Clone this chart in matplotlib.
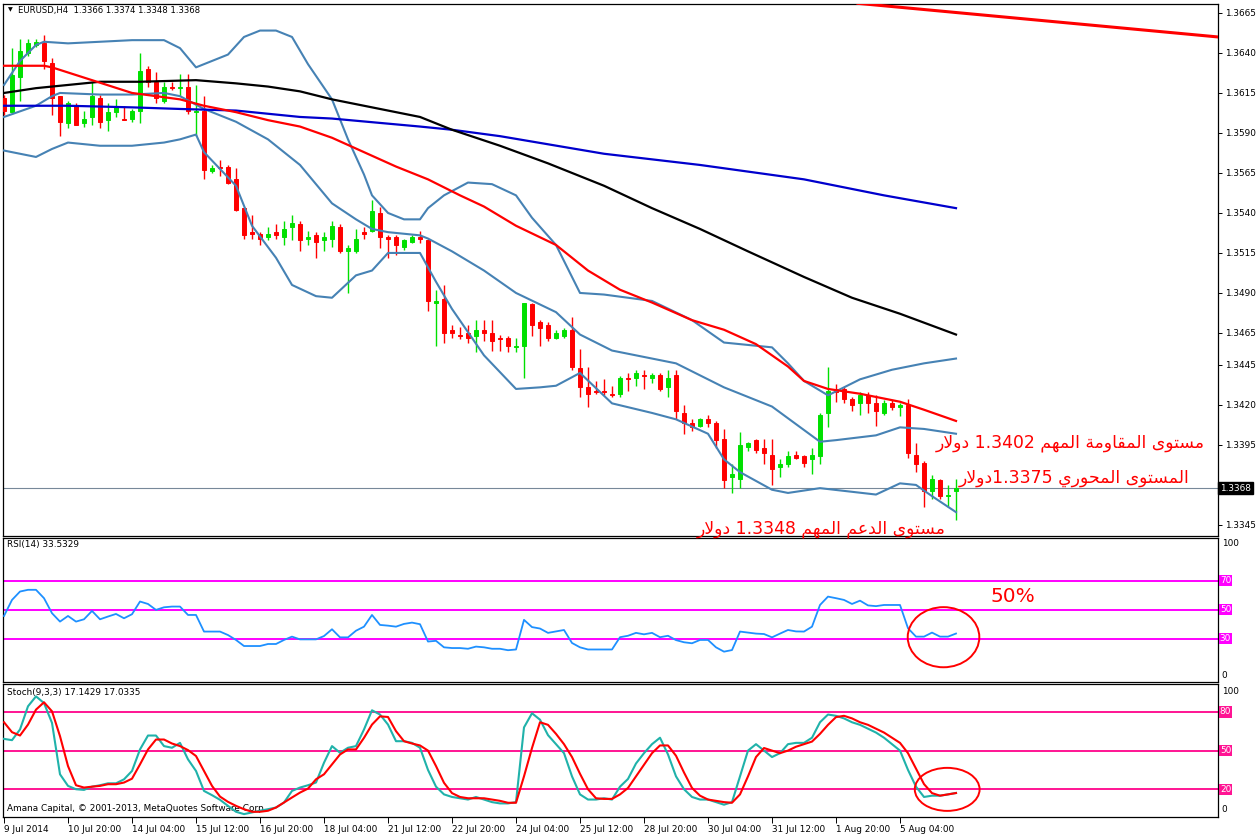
import re
import numpy as np
import matplotlib
matplotlib.use('Agg')
import matplotlib.pyplot as plt
import matplotlib.transforms as mtransforms
from matplotlib.patches import Ellipse

# ---- candle data (H4 bars, left to right) ----
opens = [
    1.3612, 1.3603, 1.3625, 1.3640, 1.3645, 1.3646, 1.3634, 1.3613, 1.3596, 1.3607,
    1.3596, 1.3600, 1.3612, 1.3598, 1.3603, 1.3599, 1.3599, 1.3604, 1.3630, 1.3622,
    1.3610, 1.3619, 1.3618, 1.3619, 1.3603, 1.3604, 1.3566, 1.3569, 1.3569, 1.3561,
    1.3543, 1.3528, 1.3527, 1.3525, 1.3528, 1.3525, 1.3531, 1.3533, 1.3524, 1.3526,
    1.3523, 1.3524, 1.3531, 1.3516, 1.3516, 1.3528, 1.3529, 1.3540, 1.3525, 1.3525,
    1.3519, 1.3522, 1.3525, 1.3523, 1.3484, 1.3486, 1.3467, 1.3464, 1.3465, 1.3463,
    1.3467, 1.3465, 1.3462, 1.3462, 1.3456, 1.3457, 1.3483, 1.3472, 1.3470, 1.3462,
    1.3463, 1.3467, 1.3443, 1.3431, 1.3429, 1.3429, 1.3427, 1.3427, 1.3437, 1.3437,
    1.3439, 1.3437, 1.3439, 1.3431, 1.3439, 1.3415, 1.3409, 1.3407, 1.3411, 1.3409,
    1.3399, 1.3375, 1.3374, 1.3394, 1.3398, 1.3393, 1.3389, 1.3381, 1.3383, 1.3389,
    1.3388, 1.3386, 1.3388, 1.3415, 1.3430, 1.3430, 1.3424, 1.3421, 1.3426, 1.3421,
    1.3415, 1.3421, 1.3419, 1.3420, 1.3389, 1.3384, 1.3366, 1.3373, 1.3363, 1.3366,
]
highs = [
    1.3614, 1.3643, 1.3649, 1.3649, 1.3649, 1.3651, 1.3637, 1.3613, 1.3610, 1.3609,
    1.3604, 1.3622, 1.3614, 1.3609, 1.3611, 1.3607, 1.3605, 1.3640, 1.3632, 1.3628,
    1.3622, 1.3622, 1.3627, 1.3627, 1.3620, 1.3613, 1.3570, 1.3573, 1.3570, 1.3568,
    1.3544, 1.3539, 1.3528, 1.3531, 1.3533, 1.3535, 1.3539, 1.3535, 1.3529, 1.3528,
    1.3528, 1.3535, 1.3533, 1.3520, 1.3530, 1.3531, 1.3548, 1.3544, 1.3526, 1.3526,
    1.3524, 1.3526, 1.3529, 1.3524, 1.3492, 1.3495, 1.3470, 1.3469, 1.3470, 1.3473,
    1.3473, 1.3473, 1.3464, 1.3463, 1.3462, 1.3484, 1.3484, 1.3473, 1.3472, 1.3467,
    1.3468, 1.3475, 1.3455, 1.3444, 1.3435, 1.3436, 1.3432, 1.3438, 1.3440, 1.3442,
    1.3442, 1.3440, 1.3440, 1.3442, 1.3442, 1.3420, 1.3411, 1.3412, 1.3414, 1.3410,
    1.3405, 1.3383, 1.3403, 1.3397, 1.3399, 1.3399, 1.3399, 1.3386, 1.3391, 1.3391,
    1.3389, 1.3393, 1.3415, 1.3444, 1.3433, 1.3431, 1.3425, 1.3428, 1.3428, 1.3426,
    1.3423, 1.3423, 1.3421, 1.3424, 1.3396, 1.3385, 1.3376, 1.3374, 1.3370, 1.3374,
]
lows = [
    1.3601, 1.3602, 1.3610, 1.3638, 1.3644, 1.3630, 1.3601, 1.3588, 1.3593, 1.3595,
    1.3594, 1.3595, 1.3593, 1.3591, 1.3600, 1.3598, 1.3597, 1.3596, 1.3619, 1.3609,
    1.3609, 1.3617, 1.3613, 1.3602, 1.3588, 1.3561, 1.3565, 1.3563, 1.3558, 1.3541,
    1.3524, 1.3524, 1.3520, 1.3523, 1.3524, 1.3520, 1.3523, 1.3516, 1.3520, 1.3512,
    1.3516, 1.3519, 1.3515, 1.3490, 1.3515, 1.3524, 1.3528, 1.3518, 1.3512, 1.3514,
    1.3517, 1.3521, 1.3521, 1.3479, 1.3457, 1.3459, 1.3462, 1.3461, 1.3459, 1.3453,
    1.3460, 1.3454, 1.3454, 1.3453, 1.3453, 1.3437, 1.3463, 1.3457, 1.3460, 1.3461,
    1.3462, 1.3442, 1.3425, 1.3419, 1.3427, 1.3426, 1.3425, 1.3425, 1.3429, 1.3432,
    1.3430, 1.3434, 1.3429, 1.3425, 1.3411, 1.3402, 1.3404, 1.3406, 1.3406, 1.3393,
    1.3368, 1.3365, 1.3368, 1.3391, 1.3390, 1.3383, 1.3370, 1.3375, 1.3381, 1.3386,
    1.3381, 1.3377, 1.3383, 1.3406, 1.3422, 1.3421, 1.3416, 1.3414, 1.3415, 1.3407,
    1.3414, 1.3417, 1.3413, 1.3387, 1.3378, 1.3356, 1.3361, 1.3361, 1.3356, 1.3348,
]
closes = [
    1.3604, 1.3626, 1.3641, 1.3646, 1.3647, 1.3635, 1.3612, 1.3597, 1.3609, 1.3595,
    1.3599, 1.3613, 1.3597, 1.3603, 1.3607, 1.3598, 1.3604, 1.3629, 1.3622, 1.3612,
    1.3619, 1.3618, 1.3619, 1.3604, 1.3604, 1.3567, 1.3568, 1.3568, 1.3559, 1.3542,
    1.3526, 1.3527, 1.3524, 1.3527, 1.3526, 1.3530, 1.3534, 1.3523, 1.3525, 1.3522,
    1.3525, 1.3532, 1.3516, 1.3518, 1.3524, 1.3527, 1.3541, 1.3525, 1.3524, 1.3520,
    1.3523, 1.3525, 1.3524, 1.3485, 1.3485, 1.3465, 1.3465, 1.3463, 1.3462, 1.3467,
    1.3465, 1.3460, 1.3461, 1.3457, 1.3457, 1.3484, 1.3470, 1.3468, 1.3462, 1.3465,
    1.3467, 1.3444, 1.3431, 1.3427, 1.3428, 1.3428, 1.3426, 1.3437, 1.3436, 1.3440,
    1.3438, 1.3439, 1.3430, 1.3437, 1.3416, 1.3409, 1.3406, 1.3411, 1.3409, 1.3398,
    1.3373, 1.3377, 1.3395, 1.3396, 1.3392, 1.3390, 1.3380, 1.3383, 1.3388, 1.3387,
    1.3384, 1.3389, 1.3414, 1.3429, 1.3428, 1.3424, 1.3420, 1.3426, 1.3421, 1.3416,
    1.3421, 1.3419, 1.3420, 1.3390, 1.3383, 1.3366, 1.3374, 1.3363, 1.3364, 1.3368,
]

# ---- indicator lines (bar index, value) ----
ma_red_bars = [0, 5, 6, 11, 16, 22, 25, 29, 33, 37, 41, 45, 49, 53, 57, 60, 64, 69, 73, 77,
               81, 86, 90, 94, 98, 100, 103, 107, 112, 115, 119]
ma_red_vals = [1.3632, 1.3632, 1.3631, 1.3623, 1.3615, 1.3611, 1.3607, 1.3603, 1.3598, 1.3594,
               1.3587, 1.3578, 1.3569, 1.3561, 1.3551, 1.3544, 1.3532, 1.3520, 1.3504, 1.3492,
               1.3484, 1.3473, 1.3467, 1.3458, 1.3444, 1.3435, 1.3430, 1.3427, 1.3422, 1.3417,
               1.3410]
ma_black_bars = [0, 4, 8, 12, 17, 24, 29, 33, 37, 41, 52, 56, 62, 68, 75, 81, 87, 93, 100,
                 106, 112, 119]
ma_black_vals = [1.3615, 1.3618, 1.3620, 1.3622, 1.3622, 1.3623, 1.3621, 1.3619, 1.3616, 1.3611,
                 1.3600, 1.3592, 1.3582, 1.3571, 1.3557, 1.3543, 1.3530, 1.3516, 1.3500,
                 1.3487, 1.3477, 1.3464]
ma_blue_bars = [0, 8, 16, 22, 29, 33, 37, 41, 52, 56, 62, 75, 87, 100, 110, 119]
ma_blue_vals = [1.3607, 1.3607, 1.3606, 1.3605, 1.3604, 1.3602, 1.3600, 1.3599, 1.3594, 1.3592,
                1.3588, 1.3577, 1.3570, 1.3561, 1.3551, 1.3543]

bb_up_bars = [0, 2, 4, 5, 8, 12, 16, 20, 22, 24, 25, 28, 30, 32, 34, 36, 38, 41, 43, 45, 46,
              48, 50, 52, 53, 55, 58, 61, 64, 66, 69, 72, 75, 81, 86, 90, 92, 96, 98, 100,
              103, 105, 107, 111, 115, 119]
bb_up_vals = [1.3620, 1.3635, 1.3645, 1.3647, 1.3646, 1.3647, 1.3648, 1.3648, 1.3643, 1.3631,
              1.3633, 1.3639, 1.3650, 1.3654, 1.3654, 1.3650, 1.3633, 1.3611, 1.3586, 1.3564,
              1.3551, 1.3540, 1.3536, 1.3536, 1.3543, 1.3551, 1.3559, 1.3558, 1.3551, 1.3537,
              1.3520, 1.3490, 1.3489, 1.3485, 1.3473, 1.3459, 1.3458, 1.3456, 1.3446, 1.3435,
              1.3426, 1.3431, 1.3436, 1.3442, 1.3446, 1.3449]
bb_mid_bars = [0, 4, 6, 7, 12, 16, 20, 22, 25, 29, 33, 37, 41, 44, 46, 48, 52, 53, 56, 60,
               64, 69, 72, 76, 80, 84, 90, 96, 102, 104, 109, 112, 115, 119]
bb_mid_vals = [1.3600, 1.3607, 1.3613, 1.3615, 1.3614, 1.3614, 1.3615, 1.3613, 1.3605, 1.3597,
               1.3586, 1.3570, 1.3546, 1.3536, 1.3530, 1.3528, 1.3526, 1.3524, 1.3516, 1.3504,
               1.3490, 1.3478, 1.3464, 1.3454, 1.3450, 1.3446, 1.3431, 1.3419, 1.3397, 1.3398,
               1.3401, 1.3406, 1.3405, 1.3402]
bb_low_bars = [0, 4, 6, 8, 12, 16, 20, 22, 24, 25, 29, 31, 34, 36, 39, 41, 44, 46, 48, 52,
               54, 56, 60, 64, 67, 69, 72, 76, 81, 84, 88, 90, 92, 96, 98, 102, 109, 112, 114,
               116, 119]
bb_low_vals = [1.3579, 1.3575, 1.3580, 1.3584, 1.3582, 1.3582, 1.3584, 1.3586, 1.3589, 1.3578,
               1.3557, 1.3532, 1.3512, 1.3495, 1.3488, 1.3487, 1.3501, 1.3504, 1.3515, 1.3515,
               1.3497, 1.3480, 1.3451, 1.3430, 1.3431, 1.3432, 1.3440, 1.3421, 1.3415, 1.3411,
               1.3402, 1.3386, 1.3378, 1.3367, 1.3365, 1.3368, 1.3364, 1.3371, 1.3370, 1.3363,
               1.3353]

trend_bars = [106.75, 151.75]
trend_vals = [1.3671, 1.3650]

rsi = [45.7, 56.8, 62.6, 63.8, 63.8, 58.0, 47.6, 41.8, 45.7, 41.8,
       43.4, 49.2, 43.4, 45.3, 47.1, 44.1, 46.9, 55.7, 54.0, 49.9,
       51.7, 52.2, 52.2, 46.4, 46.4, 34.9, 34.9, 34.9, 32.5, 29.1,
       24.9, 24.9, 24.9, 26.3, 26.3, 29.1, 31.4, 29.5, 29.5, 29.5,
       31.8, 36.5, 30.9, 30.9, 35.5, 38.3, 46.4, 39.5, 39.0, 38.3,
       40.2, 41.1, 40.0, 28.0, 28.5, 24.0, 23.5, 23.5, 23.0, 24.5,
       24.0, 23.0, 23.0, 22.0, 22.5, 43.0, 38.0, 37.0, 34.0, 35.0,
       36.0, 27.0, 24.0, 22.5, 22.5, 22.5, 22.5, 31.0, 32.0, 34.0,
       33.0, 34.0, 31.0, 32.0, 29.0, 27.5, 26.8, 29.1, 29.1, 24.0,
       21.0, 22.1, 34.9, 34.2, 33.5, 33.2, 30.9, 33.5, 36.0, 35.0,
       34.9, 38.3, 53.3, 59.1, 58.0, 56.8, 54.0, 56.3, 53.0, 52.5,
       53.3, 53.3, 53.3, 37.2, 31.4, 31.4, 34.2, 31.4, 31.4, 33.53]

stoch_k = [59.1, 58.1, 66.4, 84.4, 92.1, 86.9, 71.5, 31.6, 22.6, 20.0,
           19.5, 22.0, 23.1, 24.6, 24.6, 27.7, 34.2, 50.9, 61.7, 61.7,
           53.5, 52.2, 56.0, 43.2, 34.2, 18.7, 15.4, 11.8, 7.1, 2.5,
           0.7, 2.0, 3.3, 4.5, 5.8, 9.7, 18.7, 21.3, 23.1, 25.2,
           40.6, 53.5, 48.3, 52.2, 53.5, 66.4, 81.3, 78.0, 70.2, 57.3,
           57.3, 56.0, 52.2, 35, 22, 16, 14, 13, 12, 14,
           12, 10, 9, 9, 10, 68, 79, 74, 62, 55,
           48, 30, 16, 12, 12, 13, 12, 22, 28, 40,
           48, 55, 60, 47, 30, 20, 14, 12, 12, 10,
           8, 10, 30, 50, 55, 50, 45, 48, 55, 56,
           56, 60, 72, 78, 77, 75, 72, 70, 67, 64,
           60, 55, 50, 35, 22, 14, 15, 15, 16, 17.14]
stoch_d = [72.0, 64.3, 61.7, 70.2, 81.8, 87.5, 80.5, 61.2, 38.0, 23.1,
           21.3, 22.0, 22.6, 23.9, 23.9, 25.2, 28.2, 39.3, 50.9, 58.6,
           58.6, 55.5, 53.5, 50.4, 45.8, 34.2, 22.6, 14.3, 10.2, 7.1,
           4.5, 2.5, 2.5, 3.3, 5.8, 9.7, 13.6, 17.4, 20.5, 27.7,
           31.6, 39.3, 47.0, 50.9, 50.9, 59.9, 70.2, 76.6, 76.1, 65.1,
           57.3, 55.5, 54.0, 50, 38, 25, 17, 14, 13, 13,
           13, 12, 11, 9.5, 9.5, 30, 52, 72, 70, 63,
           55, 45, 32, 20, 13, 12.5, 12.5, 16, 21, 30,
           39, 48, 54, 54, 46, 33, 21, 15, 12, 11,
           10, 9.5, 16, 30, 45, 52, 50, 48, 50, 53,
           55, 57, 63, 70, 76, 77, 75, 72, 70, 67,
           64, 60, 56, 48, 36, 24, 17, 15, 16, 17.03]

price_ticks = [1.3665, 1.3640, 1.3615, 1.3590, 1.3565, 1.3540, 1.3515, 1.3490, 1.3465,
               1.3445, 1.3420, 1.3395, 1.3345]
date_bars = [0, 8, 16, 24, 32, 40, 48, 56, 64, 72, 80, 88, 96, 104, 112]
date_labels = ['9 Jul 2014', '10 Jul 20:00', '14 Jul 04:00', '15 Jul 12:00', '16 Jul 20:00',
               '18 Jul 04:00', '21 Jul 12:00', '22 Jul 20:00', '24 Jul 04:00', '25 Jul 12:00',
               '28 Jul 20:00', '30 Jul 04:00', '31 Jul 12:00', '1 Aug 20:00', '5 Aug 04:00']
rsi_levels = [70, 50, 30]
stoch_levels = [80, 50, 20]

notes = ['مستوى المقاومة المهم 1.3402 دولار',
         'المستوى المحوري 1.3375دولار',
         'مستوى الدعم المهم 1.3348 دولار']


# ---- tiny arabic shaper (matplotlib has no bidi / joining) ----
AR_FORMS = {
    'ا': ('\ufe8d', '\ufe8e', None, None),
    'ت': ('\ufe95', '\ufe96', '\ufe97', '\ufe98'),
    'ة': ('\ufe93', '\ufe94', None, None),
    'ح': ('\ufea1', '\ufea2', '\ufea3', '\ufea4'),
    'د': ('\ufea9', '\ufeaa', None, None),
    'ر': ('\ufead', '\ufeae', None, None),
    'س': ('\ufeb1', '\ufeb2', '\ufeb3', '\ufeb4'),
    'ع': ('\ufec9', '\ufeca', '\ufecb', '\ufecc'),
    'ق': ('\ufed5', '\ufed6', '\ufed7', '\ufed8'),
    'ل': ('\ufedd', '\ufede', '\ufedf', '\ufee0'),
    'م': ('\ufee1', '\ufee2', '\ufee3', '\ufee4'),
    'ه': ('\ufee9', '\ufeea', '\ufeeb', '\ufeec'),
    'و': ('\ufeed', '\ufeee', None, None),
    'ى': ('\ufeef', '\ufef0', None, None),
    'ي': ('\ufef1', '\ufef2', '\ufef3', '\ufef4'),
}
LAM_ALEF = ('\ufefb', '\ufefc')


def joins_next(ch):
    return ch in AR_FORMS and AR_FORMS[ch][2] is not None


def shape(text):
    out = []
    i = 0
    while i < len(text):
        ch = text[i]
        if ch not in AR_FORMS:
            out.append(ch)
            i += 1
            continue
        prev_link = i > 0 and joins_next(text[i - 1])
        if ch == 'ل' and i + 1 < len(text) and text[i + 1] == 'ا':
            out.append(LAM_ALEF[1 if prev_link else 0])
            i += 2
            continue
        next_link = joins_next(ch) and i + 1 < len(text) and text[i + 1] in AR_FORMS
        iso, fin, ini, med = AR_FORMS[ch]
        if prev_link and next_link:
            out.append(med)
        elif prev_link:
            out.append(fin)
        elif next_link:
            out.append(ini)
        else:
            out.append(iso)
        i += 1
    runs = re.findall(r'[0-9.]+|[^0-9.]+', ''.join(out))
    return ''.join(r if r[0].isdigit() else r[::-1] for r in reversed(runs))


# ---- figure ----
W, H = 1258, 835
fig = plt.figure(figsize=(W / 100, H / 100), dpi=100)
fig.patch.set_facecolor('white')
FS = 6.4


def px_axes(x0, y0, x1, y1):
    return fig.add_axes([x0 / W, 1 - y1 / H, (x1 - x0) / W, (y1 - y0) / H])


ax = px_axes(3, 4, 1218, 535.5)
ax_rsi = px_axes(3, 537.5, 1218, 682)
ax_st = px_axes(3, 684, 1218, 817)

for a in (ax, ax_rsi, ax_st):
    a.set_xlim(-0.125, 151.75)
    for s in a.spines.values():
        s.set_linewidth(0.9)
        s.set_color('black')
    a.yaxis.tick_right()
    a.tick_params(axis='y', length=3, width=0.7, pad=2, labelsize=FS)
    a.tick_params(axis='x', bottom=False, labelbottom=False)

# candles
o = np.array(opens)
h = np.array(highs)
l = np.array(lows)
c = np.array(closes)
bars = np.arange(len(o))
cols = np.where(c >= o, '#00e000', '#ff0000')
ax.vlines(bars, l, h, colors=cols, lw=1.0, zorder=3)
ax.bar(bars, c - o, bottom=o, width=0.6, color=cols, edgecolor=cols, linewidth=0.7, zorder=4)

# moving averages and bands
bb_col = '#4682b4'
ax.plot(bb_up_bars, bb_up_vals, color=bb_col, lw=1.5, zorder=5)
ax.plot(bb_mid_bars, bb_mid_vals, color=bb_col, lw=1.5, zorder=5)
ax.plot(bb_low_bars, bb_low_vals, color=bb_col, lw=1.5, zorder=5)
ax.plot(ma_blue_bars, ma_blue_vals, color='#0000cd', lw=1.6, zorder=5)
ax.plot(ma_black_bars, ma_black_vals, color='black', lw=1.6, zorder=5)
ax.plot(ma_red_bars, ma_red_vals, color='#ff0000', lw=1.6, zorder=6)
ax.plot(trend_bars, trend_vals, color='#ff0000', lw=2.2, zorder=6)

ax.axhline(closes[-1], color='#778899', lw=0.8, zorder=2)
ax.set_ylim(1.33384, 1.36706)
ax.set_yticks(price_ticks)
ax.set_yticklabels(['%.4f' % v for v in price_ticks])
tr = mtransforms.blended_transform_factory(ax.transAxes, ax.transData)
ax.text(1.0015, closes[-1], '%.4f' % closes[-1], transform=tr, color='white', fontsize=FS,
        va='center', ha='left',
        bbox=dict(boxstyle='square,pad=0.2', fc='black', ec='black'))

# header
fig.text(10 / W, 1 - 10 / H, '\u25bc', fontsize=4.5, va='center', ha='center')
fig.text(18 / W, 1 - 10 / H,
         'EURUSD,H4  %.4f %.4f %.4f %.4f' % (opens[-1], highs[-1], lows[-1], closes[-1]),
         fontsize=6.1, va='center', ha='left')

# arabic notes
note_pos = [(1205, 447), (1189, 483), (946, 533)]
for txt, (xr, yb) in zip(notes, note_pos):
    fig.text(xr / W, 1 - yb / H, shape(txt), color='#ff0000', fontsize=12.4,
             family=['DejaVu Sans'], ha='right', va='baseline')

# RSI panel
ax_rsi.plot(bars, rsi, color='#1e90ff', lw=1.3, zorder=3)
for lv in rsi_levels:
    ax_rsi.axhline(lv, color='#ff00ff', lw=1.4, zorder=2)
ax_rsi.set_ylim(0, 100)
ax_rsi.set_yticks([])
trr = mtransforms.blended_transform_factory(ax_rsi.transAxes, ax_rsi.transData)
for lv in rsi_levels:
    ax_rsi.text(1.0015, lv, str(lv), transform=trr, color='white', fontsize=FS, va='center',
                ha='left', bbox=dict(boxstyle='square,pad=0.12', fc='#ff00ff', ec='none'))
ax_rsi.text(1.003, 95.6, '100', transform=trr, fontsize=FS, va='center', ha='left')
ax_rsi.text(1.003, 4.8, '0', transform=trr, fontsize=FS, va='center', ha='left')
ax_rsi.text(0.0035, 0.95, 'RSI(14) %.4f' % 33.5329, transform=ax_rsi.transAxes,
            fontsize=FS, va='center', ha='left')
ax_rsi.text(987 / 1215, 0.59, '50%', transform=ax_rsi.transAxes, color='#ff0000',
            fontsize=14.5, va='center', ha='left')
ax_rsi.add_patch(Ellipse((117.44, 31), 8.95, 41.6, fill=False, ec='#ff0000', lw=1.4,
                         zorder=6, clip_on=False))

# Stochastic panel
ax_st.plot(bars, stoch_k, color='#20b2aa', lw=1.5, zorder=3)
ax_st.plot(bars, stoch_d, color='#ff0000', lw=1.5, zorder=4)
for lv in stoch_levels:
    ax_st.axhline(lv, color='#ff1493', lw=1.4, zorder=2)
ax_st.set_ylim(-1.55, 101.7)
ax_st.set_yticks([])
trs = mtransforms.blended_transform_factory(ax_st.transAxes, ax_st.transData)
for lv in stoch_levels:
    ax_st.text(1.0015, lv, str(lv), transform=trs, color='white', fontsize=FS, va='center',
               ha='left', bbox=dict(boxstyle='square,pad=0.12', fc='#ff1493', ec='none'))
ax_st.text(1.003, 95.7, '100', transform=trs, fontsize=FS, va='center', ha='left')
ax_st.text(1.003, 3.9, '0', transform=trs, fontsize=FS, va='center', ha='left')
ax_st.text(0.0035, 0.935, 'Stoch(9,3,3) %.4f %.4f' % (17.1429, 17.0335),
           transform=ax_st.transAxes, fontsize=FS, va='center', ha='left')
ax_st.text(0.0035, 0.065, 'Amana Capital, \u00a9 2001-2013, MetaQuotes Software Corp.',
           transform=ax_st.transAxes, fontsize=FS, va='center', ha='left', zorder=1)
ax_st.add_patch(Ellipse((117.9, 19.9), 8.1, 33.4, fill=False, ec='#ff0000', lw=1.4,
                        zorder=6, clip_on=False))

ax_st.tick_params(axis='x', bottom=True, labelbottom=True, length=4, width=0.7,
                  pad=1.5, labelsize=FS)
ax_st.set_xticks(date_bars)
ax_st.set_xticklabels(date_labels, ha='left')

fig.savefig('out.png', dpi=100, facecolor='white')
